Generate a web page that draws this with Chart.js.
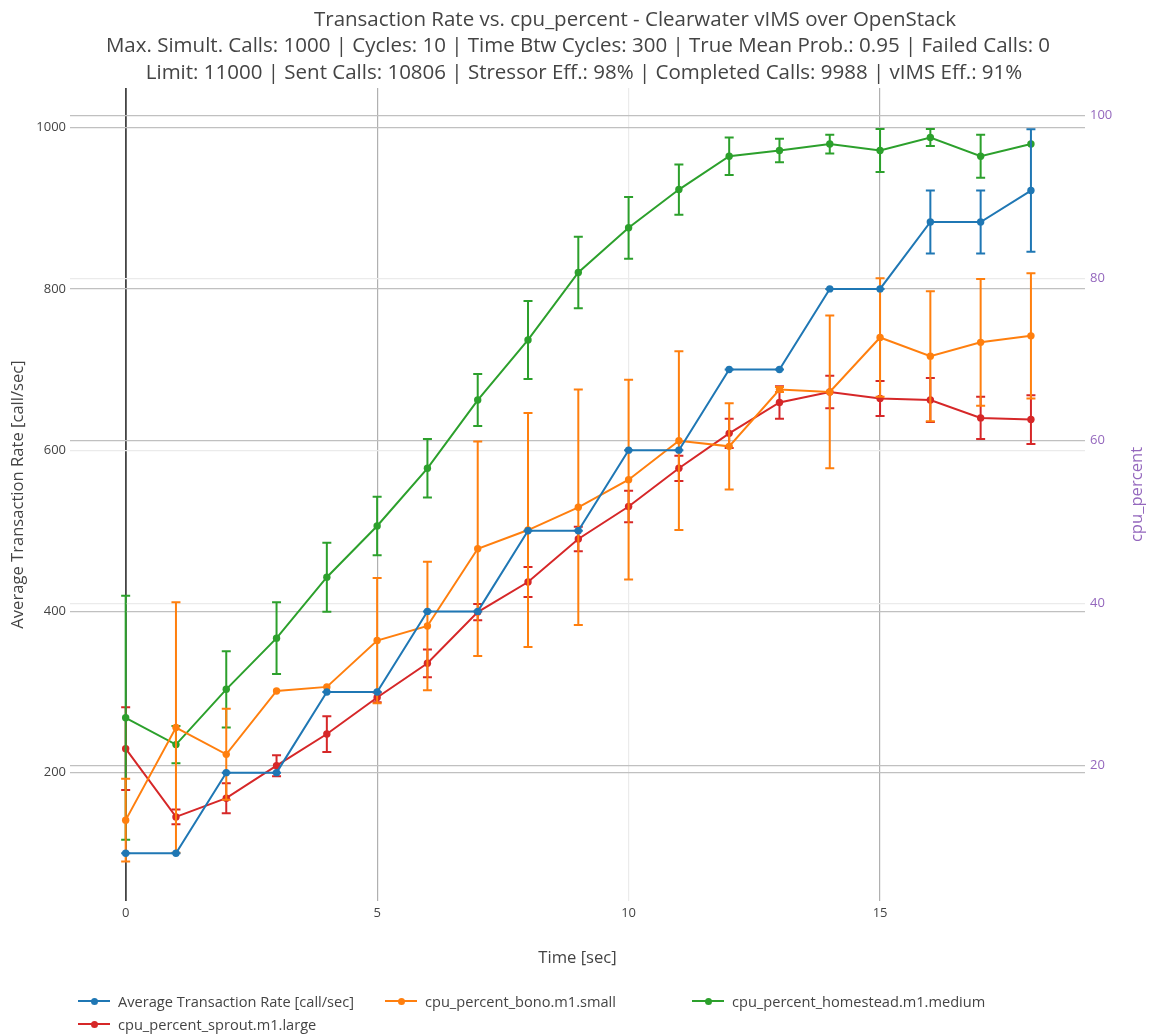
<!DOCTYPE html>
<html>
<head>
<meta charset="utf-8">
<script src="https://cdn.jsdelivr.net/npm/chart.js@4/dist/chart.umd.min.js"></script>
<style>
  html, body { margin: 0; padding: 0; background: #fff; }
  #wrap { position: relative; width: 1149px; height: 1034px; }
  #chart { display: block; }
  #legend { position: absolute; left: 0; top: 0; width: 1149px; height: 1034px; pointer-events: none;
            font-family: "Open Sans", sans-serif; font-size: 14.6px; color: #444; }
  .item { position: absolute; display: flex; align-items: center; white-space: nowrap; transform: translateY(-50%); }
  .sym { position: relative; width: 32px; height: 10px; margin-right: 8px; }
  .sym i { position: absolute; left: 0; top: 4px; width: 32px; height: 2px; }
  .sym b { position: absolute; left: 12.5px; top: 1.5px; width: 7px; height: 7px; border-radius: 50%; }
</style>
</head>
<body>
<div id="wrap">
  <canvas id="chart" width="1149" height="1034"></canvas>
  <div id="legend"></div>
</div>
<script>
// ---- data ----
const timeSec = [0, 1, 2, 3, 4, 5, 6, 7, 8, 9, 10, 11, 12, 13, 14, 15, 16, 17, 18];

const rateValues = [100, 100, 200, 200, 300, 300, 400, 400, 500, 500, 600, 600, 700, 700, 800, 800, 883, 883, 922];
const rateErrors = [0, 0, 0, 0, 0, 0, 0, 0, 0, 0, 0, 0, 0, 0, 0, 0, 39, 39, 76];

const bonoValues = [13.3, 24.7, 21.4, 29.2, 29.7, 35.4, 37.2, 46.7, 49.0, 51.8, 55.2, 60.0, 59.3, 66.3, 66.0, 72.7, 70.4, 72.1, 72.9];
const bonoErrors = [5.1, 15.4, 5.6, null, null, 7.7, 7.9, 13.2, 14.4, 14.5, 12.3, 11.0, 5.3, 0.3, 9.4, 7.3, 8.0, 7.8, 7.7];

const homesteadValues = [25.9, 22.6, 29.4, 35.7, 43.2, 49.5, 56.6, 65.0, 72.4, 80.7, 86.2, 90.9, 95.0, 95.7, 96.5, 95.7, 97.3, 95.0, 96.5];
const homesteadErrors = [15.0, 2.3, 4.7, 4.4, 4.25, 3.6, 3.6, 3.2, 4.8, 4.4, 3.8, 3.1, 2.3, 1.45, 1.15, 2.65, 1.05, 2.65, null];

const sproutValues = [22.1, 13.7, 16.0, 20.0, 23.9, 28.4, 32.6, 38.9, 42.6, 47.9, 51.9, 56.6, 60.9, 64.7, 66.0, 65.2, 65.0, 62.8, 62.6];
const sproutErrors = [5.1, 0.9, 1.85, 1.3, 2.2, 0.6, 1.7, 1.0, 1.85, 1.5, 1.95, 1.55, 1.8, 2.0, 2.0, 2.15, 2.7, 2.6, 3.0];

const xTicks = [0, 5, 10, 15];
const leftTicks = [200, 400, 600, 800, 1000];
const rightTicks = [20, 40, 60, 80, 100];

const seriesNames = [
  'Average Transaction Rate [call/sec]',
  'cpu_percent_bono.m1.small',
  'cpu_percent_homestead.m1.medium',
  'cpu_percent_sprout.m1.large'
];

const titleLines = [
  'Transaction Rate vs. cpu_percent - Clearwater vIMS over OpenStack',
  'Max. Simult. Calls: 1000 | Cycles: 10 | Time Btw Cycles: 300 | True Mean Prob.: 0.95 | Failed Calls: 0',
  'Limit: 11000 | Sent Calls: 10806 | Stressor Eff.: 98% | Completed Calls: 9988 | vIMS Eff.: 91%'
];
const xAxisTitle = 'Time [sec]';
const leftAxisTitle = 'Average Transaction Rate [call/sec]';
const rightAxisTitle = 'cpu_percent';

// ---- styling ----
const COLORS = ['#1f77b4', '#ff7f0e', '#2ca02c', '#d62728'];
const RIGHT_COLOR = '#9467bd';
const TEXT = '#444';
const GRID_DARK = '#c0c0c0';
const GRID_LIGHT = '#ebebeb';
const FONT = '"Open Sans", sans-serif';

Chart.defaults.font.family = FONT;
Chart.defaults.color = TEXT;

const toPoints = vals => vals.map((v, i) => ({ x: timeSec[i], y: v }));
const fixedTicks = list => scale => { scale.ticks = list.map(v => ({ value: v })); };

function makeSeries(idx, vals, errs, axis) {
  return {
    label: seriesNames[idx],
    data: toPoints(vals),
    errors: errs,
    yAxisID: axis,
    borderColor: COLORS[idx],
    backgroundColor: COLORS[idx],
    borderWidth: 2,
    pointRadius: 3.7,
    pointHoverRadius: 3.7,
    pointBorderWidth: 0,
    tension: 0,
    fill: false
  };
}

// vertical error bars with caps, drawn just beneath each series' own line
const errorBars = {
  id: 'errorBars',
  beforeDatasetDraw(chart, args) {
    const ds = chart.data.datasets[args.index];
    if (!ds.errors) return;
    const xs = chart.scales.x;
    const ys = chart.scales[ds.yAxisID];
    const ctx = chart.ctx;
    ctx.save();
    ctx.strokeStyle = ds.borderColor;
    ctx.lineWidth = 2;
    ds.data.forEach((p, i) => {
      const e = ds.errors[i];
      if (e === null || e === undefined) return;
      const px = xs.getPixelForValue(p.x);
      const top = ys.getPixelForValue(p.y + e);
      const bot = ys.getPixelForValue(p.y - e);
      ctx.beginPath();
      ctx.moveTo(px, top); ctx.lineTo(px, bot);
      ctx.moveTo(px - 4.5, top); ctx.lineTo(px + 4.5, top);
      ctx.moveTo(px - 4.5, bot); ctx.lineTo(px + 4.5, bot);
      ctx.stroke();
    });
    ctx.restore();
  }
};

// three-line heading; each line keeps its own centre
const titleCenters = [635, 578, 584];
const titleBaselines = [20, 46.5, 73];
const heading = {
  id: 'heading',
  afterDraw(chart) {
    const ctx = chart.ctx;
    ctx.save();
    ctx.font = '20.5px ' + FONT;
    ctx.fillStyle = TEXT;
    ctx.textAlign = 'center';
    ctx.textBaseline = 'middle';
    titleLines.forEach((t, i) => ctx.fillText(t, titleCenters[i], titleBaselines[i]));
    ctx.restore();
  }
};

// right axis title reading bottom-to-top
const rightTitle = {
  id: 'rightTitle',
  afterDraw(chart) {
    const s = chart.scales.y1;
    const ctx = chart.ctx;
    ctx.save();
    ctx.translate(s.right - 12, (chart.chartArea.top + chart.chartArea.bottom) / 2);
    ctx.rotate(-Math.PI / 2);
    ctx.font = '16.6px ' + FONT;
    ctx.fillStyle = RIGHT_COLOR;
    ctx.textAlign = 'center';
    ctx.textBaseline = 'middle';
    ctx.fillText(rightAxisTitle, 0, 0);
    ctx.restore();
  }
};

const xGridColor = c => {
  const v = c.tick && c.tick.value;
  if (v === 0) return '#444';
  if (v === 10) return GRID_LIGHT;
  return '#b0b0b0';
};
const leftGridColor = c => (c.tick && c.tick.value === 600) ? GRID_LIGHT : GRID_DARK;
const rightGridColor = c => (c.tick && (c.tick.value === 80 || c.tick.value === 40)) ? GRID_LIGHT : GRID_DARK;

new Chart(document.getElementById('chart'), {
  type: 'line',
  data: {
    datasets: [
      makeSeries(0, rateValues, rateErrors, 'y'),
      makeSeries(1, bonoValues, bonoErrors, 'y1'),
      makeSeries(2, homesteadValues, homesteadErrors, 'y1'),
      makeSeries(3, sproutValues, sproutErrors, 'y1')
    ]
  },
  options: {
    responsive: false,
    animation: false,
    devicePixelRatio: 1,
    layout: { padding: { left: 6, right: 0, top: 88, bottom: 65.4 } },
    plugins: {
      legend: { display: false },
      tooltip: { enabled: false },
      title: { display: false }
    },
    scales: {
      x: {
        type: 'linear',
        min: -1.107,
        max: 19.075,
        border: { display: false },
        grid: {
          drawTicks: false,
          color: xGridColor,
          lineWidth: c => (c.tick && c.tick.value === 0) ? 1.8 : 1.2
        },
        afterBuildTicks: fixedTicks(xTicks),
        ticks: { padding: 4, color: TEXT, font: { size: 13 }, callback: v => String(v) },
        title: { display: true, text: xAxisTitle, color: TEXT, font: { size: 16.6 }, padding: 0 },
        afterFit: s => { s.height = 67.6; }
      },
      y: {
        position: 'left',
        min: 40.8,
        max: 1049.2,
        border: { display: false },
        grid: { drawTicks: false, color: leftGridColor, lineWidth: 1.2 },
        afterBuildTicks: fixedTicks(leftTicks),
        ticks: { padding: 4, color: TEXT, font: { size: 13 }, callback: v => String(v) },
        title: { display: true, text: leftAxisTitle, color: TEXT, font: { size: 16.6 }, padding: { top: 2.4, bottom: 0 } },
        afterFit: s => { s.width = 64; }
      },
      y1: {
        position: 'right',
        min: 3.35,
        max: 103.4,
        border: { display: false },
        grid: { drawTicks: false, color: rightGridColor, lineWidth: 1.2 },
        afterBuildTicks: fixedTicks(rightTicks),
        ticks: { padding: 5, color: RIGHT_COLOR, font: { size: 13 }, callback: v => String(v) },
        afterFit: s => { s.width = 64; }
      }
    }
  },
  plugins: [errorBars, heading, rightTitle]
});

// legend below the plot, three columns
const legendCols = [78, 385, 692];
const legendRows = [1001, 1024];
const legendEl = document.getElementById('legend');
seriesNames.forEach((name, i) => {
  const item = document.createElement('div');
  item.className = 'item';
  item.style.left = legendCols[i % 3] + 'px';
  item.style.top = legendRows[Math.floor(i / 3)] + 'px';
  const sym = document.createElement('span');
  sym.className = 'sym';
  const line = document.createElement('i');
  line.style.background = COLORS[i];
  const dot = document.createElement('b');
  dot.style.background = COLORS[i];
  sym.appendChild(line);
  sym.appendChild(dot);
  const label = document.createElement('span');
  label.textContent = name;
  item.appendChild(sym);
  item.appendChild(label);
  legendEl.appendChild(item);
});
</script>
</body>
</html>
